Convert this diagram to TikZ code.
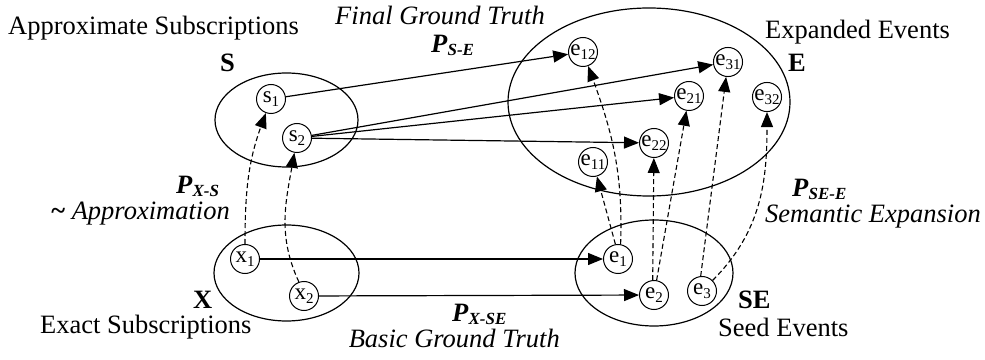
\documentclass[tikz,border=0pt]{standalone}
\usepackage{fontspec}
\setmainfont{Liberation Serif}
\usetikzlibrary{arrows.meta}
\newcommand\lab[2]{#1\raisebox{-3.5pt}{\fontsize{15}{15}\selectfont #2}}
\newcommand\Pl[1]{\textbf{\textit{P}}\raisebox{-3pt}[8pt][0pt]{\fontsize{17}{17}\selectfont\bfseries\itshape #1}}
\begin{document}
\begin{tikzpicture}[x=1pt,y=1pt,
  ev/.style={draw,circle,line width=1pt,minimum size=29pt,inner sep=0pt,font=\fontsize{23}{23}\selectfont},
  set/.style={line width=1.2pt},
  txt/.style={inner sep=0pt,font=\fontsize{26.5}{30}\selectfont},
  arr/.style={line width=1.2pt,-{Triangle[length=15pt,width=12pt]}},
  darr/.style={line width=1.1pt,dash pattern=on 5pt off 3pt,-{Triangle[length=15pt,width=12pt]}}]
\useasboundingbox (0,0) rectangle (985,359);
% sets
\draw[set] (286.5,239) ellipse [x radius=71.5, y radius=47];
\draw[set] (286.5,86) ellipse [x radius=72.5, y radius=48];
\draw[set] (654,86) ellipse [x radius=79, y radius=53];
\draw[set] (649,257) ellipse [x radius=141, y radius=94];
% nodes
\node[ev] (s1) at (271,260) {\lab{s}{1}};
\node[ev] (s2) at (297,221) {\lab{s}{2}};
\node[ev] (x1) at (245,100) {\lab{x}{1}};
\node[ev] (x2) at (304,63) {\lab{x}{2}};
\node[ev] (e1) at (618,100) {\lab{e}{1}};
\node[ev] (e2) at (654,64) {\lab{e}{2}};
\node[ev] (e3) at (702,68) {\lab{e}{3}};
\node[ev] (e11) at (593,197) {\lab{e}{11}};
\node[ev] (e12) at (583,307) {\lab{e}{12}};
\node[ev] (e22) at (654,216) {\lab{e}{22}};
\node[ev] (e21) at (689,263) {\lab{e}{21}};
\node[ev] (e31) at (728,297) {\lab{e}{31}};
\node[ev] (e32) at (767,262) {\lab{e}{32}};
% solid arrows
\draw[arr] (s1) -- (e12);
\draw[arr] (s2) -- (e31);
\draw[arr] (s2) -- (e21);
\draw[arr] (s2) -- (e22);
\draw[arr] (x1) -- (e1);
\draw[arr] (x2) -- (e2);
% dashed arrows
\draw[darr] (x1) to[out=90,in=-110] (s1);
\draw[darr] (x2.110) to[out=115,in=-100] (s2);
\draw[darr] (e1.100) -- (e11);
\draw[darr] (e1.80) to[out=88,in=-70] (e12);
\draw[darr] (e2.95) -- (e22);
\draw[darr] (e2.80) -- (e21);
\draw[darr] (e3.95) -- (e31);
\draw[darr] (e3.45) to[out=45,in=-90] (e32);
% labels
\node[txt,anchor=base west] (tAS) at (8,324) {Approximate Subscriptions};
\node[txt,anchor=base west] (tFG) at (335,334) {\itshape Final Ground Truth};
\node[txt,anchor=base west] (tPSE) at (431,306) {\Pl{S-E}};
\node[txt,anchor=base west] (tEE) at (765,320) {Expanded Events};
\node[txt,anchor=base west] (tE) at (788,287) {\bfseries E};
\node[txt,anchor=base west] (tS) at (220,287) {\bfseries S};
\node[txt,anchor=base west] (tPXS) at (176,165) {\Pl{X-S}};
\node[txt,anchor=base east] (tAp) at (230,139) {\textbf{\textasciitilde}\ \itshape Approximation};
\node[txt,anchor=base west] (tX) at (193,51) {\bfseries X};
\node[txt,anchor=base west] (tES) at (40,26) {Exact Subscriptions};
\node[txt,anchor=base west] (tPXSE) at (452,38) {\Pl{X-SE}};
\node[txt,anchor=base east,text height=18pt] (tBG) at (560,12) {\itshape Basic Ground Truth};
\node[txt,anchor=base west] (tPSEE) at (792,162) {\Pl{SE-E}};
\node[txt,anchor=base west] (tSX) at (765,136) {\itshape Semantic Expansion};
\node[txt,anchor=base west] (tSE) at (738,51) {\bfseries SE};
\node[txt,anchor=base west] (tSd) at (718,23) {Seed Events};
\end{tikzpicture}
\end{document}
